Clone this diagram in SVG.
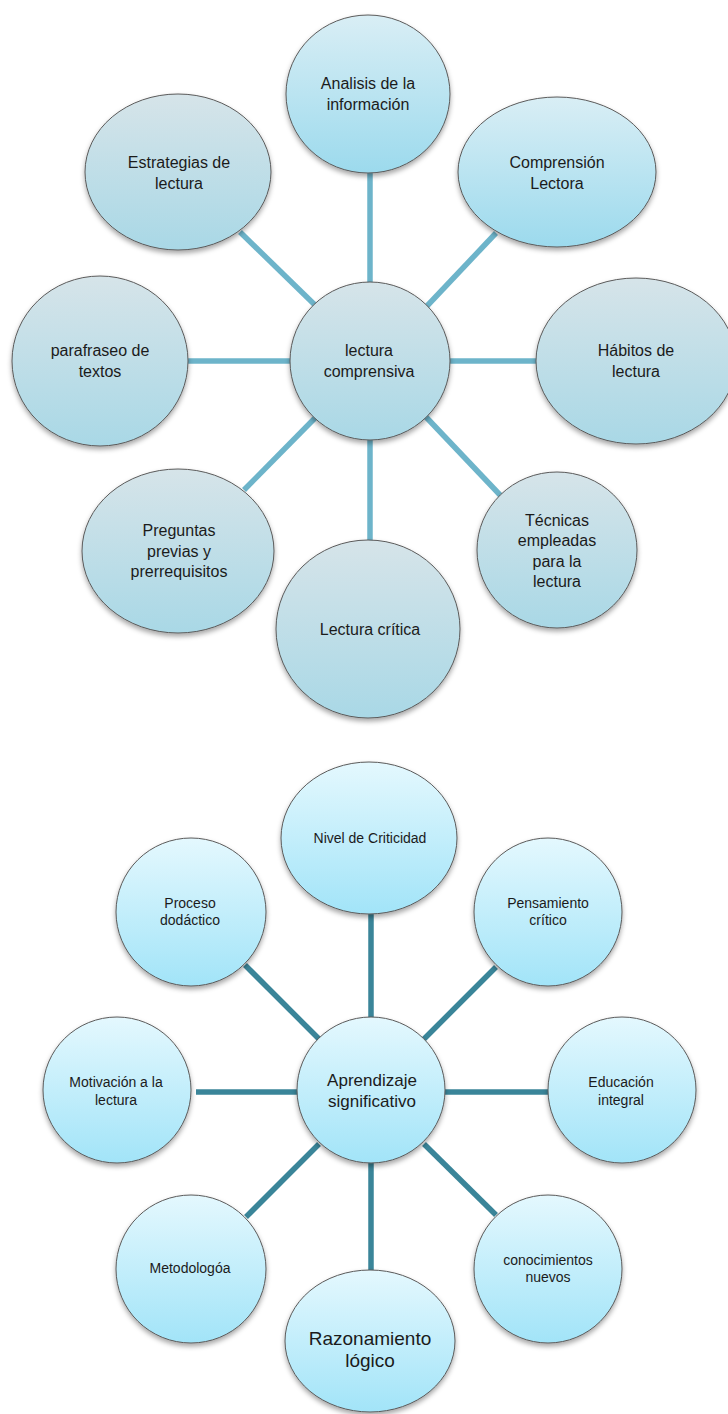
<svg xmlns="http://www.w3.org/2000/svg" width="728" height="1414" viewBox="0 0 728 1414">
<defs>
<linearGradient id="gGray" x1="0" y1="0" x2="0" y2="1">
<stop offset="0" stop-color="#d6e4e9"/><stop offset="1" stop-color="#a9d8e6"/>
</linearGradient>
<linearGradient id="gBlue" x1="0" y1="0" x2="0" y2="1">
<stop offset="0" stop-color="#d9eef5"/><stop offset="1" stop-color="#9cdaed"/>
</linearGradient>
<linearGradient id="gCyan" x1="0" y1="0" x2="0" y2="1">
<stop offset="0" stop-color="#e4f8fe"/><stop offset="1" stop-color="#a2e4f8"/>
</linearGradient>
<filter id="sh" x="-20%" y="-20%" width="140%" height="150%">
<feDropShadow dx="0" dy="3" stdDeviation="2.5" flood-color="#000" flood-opacity="0.35"/>
</filter>
<style>
.n{stroke:#5a5a5a;stroke-width:1;filter:url(#sh)}
.g{fill:url(#gGray)}.b{fill:url(#gBlue)}.c{fill:url(#gCyan)}
.t{font-family:"Liberation Sans",Arial,sans-serif;fill:#1b1b1b;text-anchor:middle}
.t16{font-size:16px}.t14{font-size:14px}.t17{font-size:17px}.t19{font-size:19px}
.l1{stroke:#6db4ca;stroke-width:5.5;fill:none}
.l2{stroke:#3a8599;stroke-width:5.5;fill:none}
</style>
</defs>
<rect width="728" height="1414" fill="#ffffff"/>

<g id="connectors">
<line class="l1" x1="370" y1="172" x2="370" y2="285"/>
<line class="l1" x1="240" y1="232" x2="316" y2="306"/>
<line class="l1" x1="496" y1="233" x2="427" y2="306"/>
<line class="l1" x1="188" y1="361" x2="291" y2="361"/>
<line class="l1" x1="449" y1="361" x2="537" y2="361"/>
<line class="l1" x1="316" y1="417" x2="244" y2="490"/>
<line class="l1" x1="370" y1="440" x2="370" y2="541"/>
<line class="l1" x1="426" y1="417" x2="501" y2="496"/>
<line class="l2" x1="371" y1="914" x2="371" y2="1018"/>
<line class="l2" x1="245" y1="965" x2="319" y2="1039"/>
<line class="l2" x1="496" y1="967" x2="424" y2="1039"/>
<line class="l2" x1="196" y1="1092" x2="298" y2="1092"/>
<line class="l2" x1="445" y1="1092" x2="548" y2="1092"/>
<line class="l2" x1="319" y1="1144" x2="246" y2="1217"/>
<line class="l2" x1="371" y1="1162" x2="371" y2="1270"/>
<line class="l2" x1="424" y1="1144" x2="496" y2="1215"/>
</g>

<g id="n-analisis"><ellipse class="n b" cx="368" cy="94" rx="82" ry="79"/>
<text class="t t16" x="368" y="89">Analisis de la</text><text class="t t16" x="368" y="110">información</text></g>
<g id="n-estrategias"><ellipse class="n g" cx="178" cy="172" rx="93" ry="78"/>
<text class="t t16" x="179" y="168">Estrategias de</text><text class="t t16" x="179" y="189">lectura</text></g>
<g id="n-comprension"><ellipse class="n b" cx="557" cy="172" rx="99" ry="75"/>
<text class="t t16" x="557" y="168">Comprensión</text><text class="t t16" x="557" y="189">Lectora</text></g>
<g id="n-parafraseo"><ellipse class="n g" cx="100" cy="361" rx="88" ry="85"/>
<text class="t t16" x="100" y="356">parafraseo de</text><text class="t t16" x="100" y="377">textos</text></g>
<g id="n-lectura-comprensiva"><ellipse class="n g" cx="370" cy="361" rx="80" ry="79"/>
<text class="t t16" x="369" y="356">lectura</text><text class="t t16" x="369" y="377">comprensiva</text></g>
<g id="n-habitos"><ellipse class="n g" cx="636" cy="361" rx="100" ry="83"/>
<text class="t t16" x="636" y="356">Hábitos de</text><text class="t t16" x="636" y="377">lectura</text></g>
<g id="n-preguntas"><ellipse class="n g" cx="178" cy="551" rx="96" ry="82"/>
<text class="t t16" x="179" y="536">Preguntas</text><text class="t t16" x="179" y="557">previas y</text><text class="t t16" x="179" y="577">prerrequisitos</text></g>
<g id="n-lectura-critica"><ellipse class="n g" cx="368" cy="629" rx="92" ry="89"/>
<text class="t t16" x="370" y="635">Lectura crítica</text></g>
<g id="n-tecnicas"><ellipse class="n g" cx="557" cy="550" rx="80" ry="78"/>
<text class="t t16" x="557" y="526">Técnicas</text><text class="t t16" x="557" y="546">empleadas</text><text class="t t16" x="557" y="567">para la</text><text class="t t16" x="557" y="587">lectura</text></g>

<g id="n-nivel"><ellipse class="n c" cx="369" cy="838" rx="88" ry="76"/>
<text class="t t14" x="370" y="843">Nivel de Criticidad</text></g>
<g id="n-proceso"><ellipse class="n c" cx="191" cy="912" rx="75" ry="74"/>
<text class="t t14" x="190" y="908">Proceso</text><text class="t t14" x="190" y="925">dodáctico</text></g>
<g id="n-pensamiento"><ellipse class="n c" cx="548" cy="912" rx="74" ry="74"/>
<text class="t t14" x="548" y="908">Pensamiento</text><text class="t t14" x="548" y="925">crítico</text></g>
<g id="n-motivacion"><ellipse class="n c" cx="117" cy="1090" rx="74" ry="73"/>
<text class="t t14" x="116" y="1087">Motivación a la</text><text class="t t14" x="116" y="1105">lectura</text></g>
<g id="n-aprendizaje"><ellipse class="n c" cx="371" cy="1090" rx="74" ry="73"/>
<text class="t t17" x="372" y="1086">Aprendizaje</text><text class="t t17" x="372" y="1107">significativo</text></g>
<g id="n-educacion"><ellipse class="n c" cx="622" cy="1090" rx="74" ry="73"/>
<text class="t t14" x="621" y="1087">Educación</text><text class="t t14" x="621" y="1105">integral</text></g>
<g id="n-metodologia"><ellipse class="n c" cx="191" cy="1269" rx="75" ry="74"/>
<text class="t t14" x="190" y="1273">Metodologóa</text></g>
<g id="n-conocimientos"><ellipse class="n c" cx="548" cy="1269" rx="74" ry="74"/>
<text class="t t14" x="548" y="1265">conocimientos</text><text class="t t14" x="548" y="1282">nuevos</text></g>
<g id="n-razonamiento"><ellipse class="n c" cx="370" cy="1341" rx="85" ry="71"/>
<text class="t t19" x="370" y="1345">Razonamiento</text><text class="t t19" x="370" y="1367">lógico</text></g>
</svg>
